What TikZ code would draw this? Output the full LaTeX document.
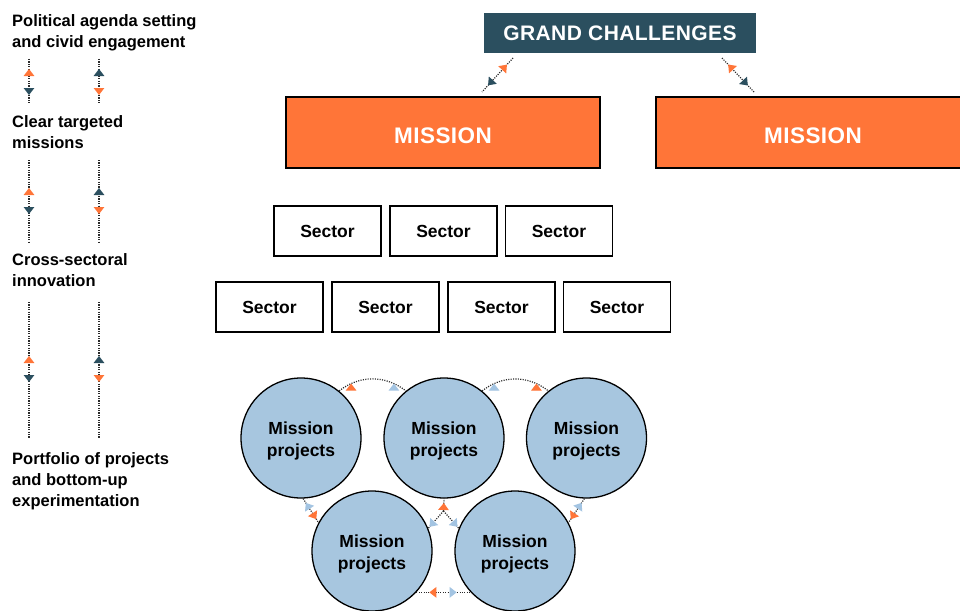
\documentclass[tikz,border=0pt]{standalone}
\usepackage{fontspec}
\setmainfont{Liberation Sans}
\newfontfamily\capsfont[LetterSpace=2]{Liberation Sans}
\usetikzlibrary{arrows.meta,decorations.markings,calc}
\definecolor{orng}{HTML}{FF7538}
\definecolor{gcteal}{HTML}{2B4F5F}
\definecolor{cblue}{HTML}{A7C6DF}
\definecolor{tblue}{HTML}{A3C4E2}
\definecolor{dotgray}{HTML}{2A2A2A}
\tikzset{
  tri/.style={},
  dotline/.style={draw=dotgray, line width=1.2pt, dash pattern=on 1.1pt off 1.3pt},
  tipsout/.style n args={4}{postaction={decorate}, decoration={markings,
    mark=at position #3 with {\arrowreversed{Triangle[width=10.5pt,length=7pt,color=#1]}},
    mark=at position -#4 with {\arrow{Triangle[width=10.5pt,length=7pt,color=#2]}}}},
  uptips/.style 2 args={postaction={decorate}, decoration={markings,
    mark=at position 14pt with {\pgftransformresetnontranslations\pgftransformrotate{90}\arrow{Triangle[width=10.5pt,length=7pt,color=#1]}},
    mark=at position -14pt with {\pgftransformresetnontranslations\pgftransformrotate{90}\arrow{Triangle[width=10.5pt,length=7pt,color=#2]}}}},
  onetip/.style 2 args={postaction={decorate}, decoration={markings,
    mark=at position #2 with {\arrow{Triangle[width=10.5pt,length=7pt,color=#1]}}}},
  lefttext/.style={anchor=base west, align=left, inner sep=0pt,
    font=\fontsize{16.5}{21}\selectfont\bfseries},
  gcbox/.style={fill=gcteal, text=white, minimum width=272pt, minimum height=40pt,
    inner sep=0pt, font=\capsfont\fontsize{21}{24}\selectfont\bfseries},
  missionbox/.style={fill=orng, draw=black, line width=1.2pt, text=white,
    minimum width=314pt, minimum height=71pt, inner sep=0pt,
    font=\capsfont\fontsize{22.5}{26}\selectfont\bfseries},
  sectorbox/.style={draw=black, line width=1.2pt, minimum width=107pt,
    minimum height=50pt, inner sep=0pt, font=\fontsize{17.5}{21}\selectfont\bfseries},
  projcircle/.style={circle, fill=cblue, draw=black, line width=1.3pt,
    minimum size=120pt, inner sep=0pt},
  projtext/.style={align=center, inner sep=0pt,
    font=\fontsize{17.5}{22}\selectfont\bfseries}
}
\begin{document}
\begin{tikzpicture}[x=1pt,y=-1pt]
\clip (0,0) rectangle (960,610);
\fill[white] (0,0) rectangle (960,610);

% left column texts (anchor = baseline of last line)
\node[lefttext] (t1) at (12,48) {Political agenda setting\\and civid engagement};
\node[lefttext] (t2) at (12,148) {Clear targeted\\missions};
\node[lefttext] (t3) at (12,286) {Cross-sectoral\\innovation};
\node[lefttext] (t4) at (12,506) {Portfolio of projects\\and bottom-up\\experimentation};

% left column dotted connectors
\coordinate (la1) at (29,59);  \coordinate (lb1) at (29,103);
\coordinate (ra1) at (99,59);  \coordinate (rb1) at (99,103);
\coordinate (la2) at (29,160); \coordinate (lb2) at (29,242);
\coordinate (ra2) at (99,160); \coordinate (rb2) at (99,242);
\coordinate (la3) at (29,302); \coordinate (lb3) at (29,438);
\coordinate (ra3) at (99,302); \coordinate (rb3) at (99,438);
\draw[dotline, tipsout={orng}{gcteal}{10pt}{8pt}] (la1) -- (lb1);
\draw[dotline, tipsout={gcteal}{orng}{10pt}{8pt}] (ra1) -- (rb1);
\draw[dotline, tipsout={orng}{gcteal}{28pt}{28pt}] (la2) -- (lb2);
\draw[dotline, tipsout={gcteal}{orng}{28pt}{28pt}] (ra2) -- (rb2);
\draw[dotline, tipsout={orng}{gcteal}{54pt}{56pt}] (la3) -- (lb3);
\draw[dotline, tipsout={gcteal}{orng}{54pt}{56pt}] (ra3) -- (rb3);

% grand challenges and missions
\node[gcbox] (gc) at (620,33) {GRAND CHALLENGES};
\node[missionbox] (m1) at (443,132.5) {\raisebox{-3.5pt}[\height][\depth]{MISSION}};
\node[missionbox] (m2) at (813,132.5) {\raisebox{-3.5pt}[\height][\depth]{MISSION}};
\coordinate (g1) at (513,58); \coordinate (g1b) at (482,92);
\coordinate (g2) at (722,58); \coordinate (g2b) at (754,92);
\draw[dotline, tipsout={orng}{gcteal}{9pt}{9pt}] (g1) -- (g1b);
\draw[dotline, tipsout={orng}{gcteal}{9pt}{9pt}] (g2) -- (g2b);

% sectors
\node[sectorbox] (s1) at (327.5,231) {Sector};
\node[sectorbox] (s2) at (443.5,231) {Sector};
\node[sectorbox] (s3) at (559,231) {Sector};
\node[sectorbox] (s4) at (269.5,307) {Sector};
\node[sectorbox] (s5) at (385.5,307) {Sector};
\node[sectorbox] (s6) at (501.5,307) {Sector};
\node[sectorbox] (s7) at (617,307) {Sector};

% mission projects
\node[projcircle] (c1) at (301,438) {};
\node[projcircle] (c2) at (444,438) {};
\node[projcircle] (c3) at (586.5,438) {};
\node[projcircle] (c4) at (372,551) {};
\node[projcircle] (c5) at (515,551) {};
\foreach \c in {c1,c2,c3,c4,c5}
  \node[projtext] (\c t) at ([yshift=-2.5pt]\c.center) {Mission\\projects};

\draw[dotline, uptips={orng}{tblue}] (c1.51) to[bend left=38] (c2.129);
\draw[dotline, uptips={tblue}{orng}] (c2.51) to[bend left=38] (c3.129);
\draw[dotline, tipsout={tblue}{orng}{5pt}{4pt}] (c1.-88) -- (c4.152);
\draw[dotline, tipsout={tblue}{orng}{5pt}{4pt}] (c3.-92) -- (c5.28);
\coordinate (fork) at (443.5,511);
\draw[dotline, onetip={orng}{8pt}] (fork) -- (c2.south);
\draw[dotline, onetip={tblue}{-2pt}] (fork) -- (c4.22);
\draw[dotline, onetip={tblue}{-2pt}] (fork) -- (c5.158);
\draw[dotline, tipsout={orng}{tblue}{13pt}{14pt}] (c4.-43) -- (c5.-137);
\end{tikzpicture}
\end{document}
